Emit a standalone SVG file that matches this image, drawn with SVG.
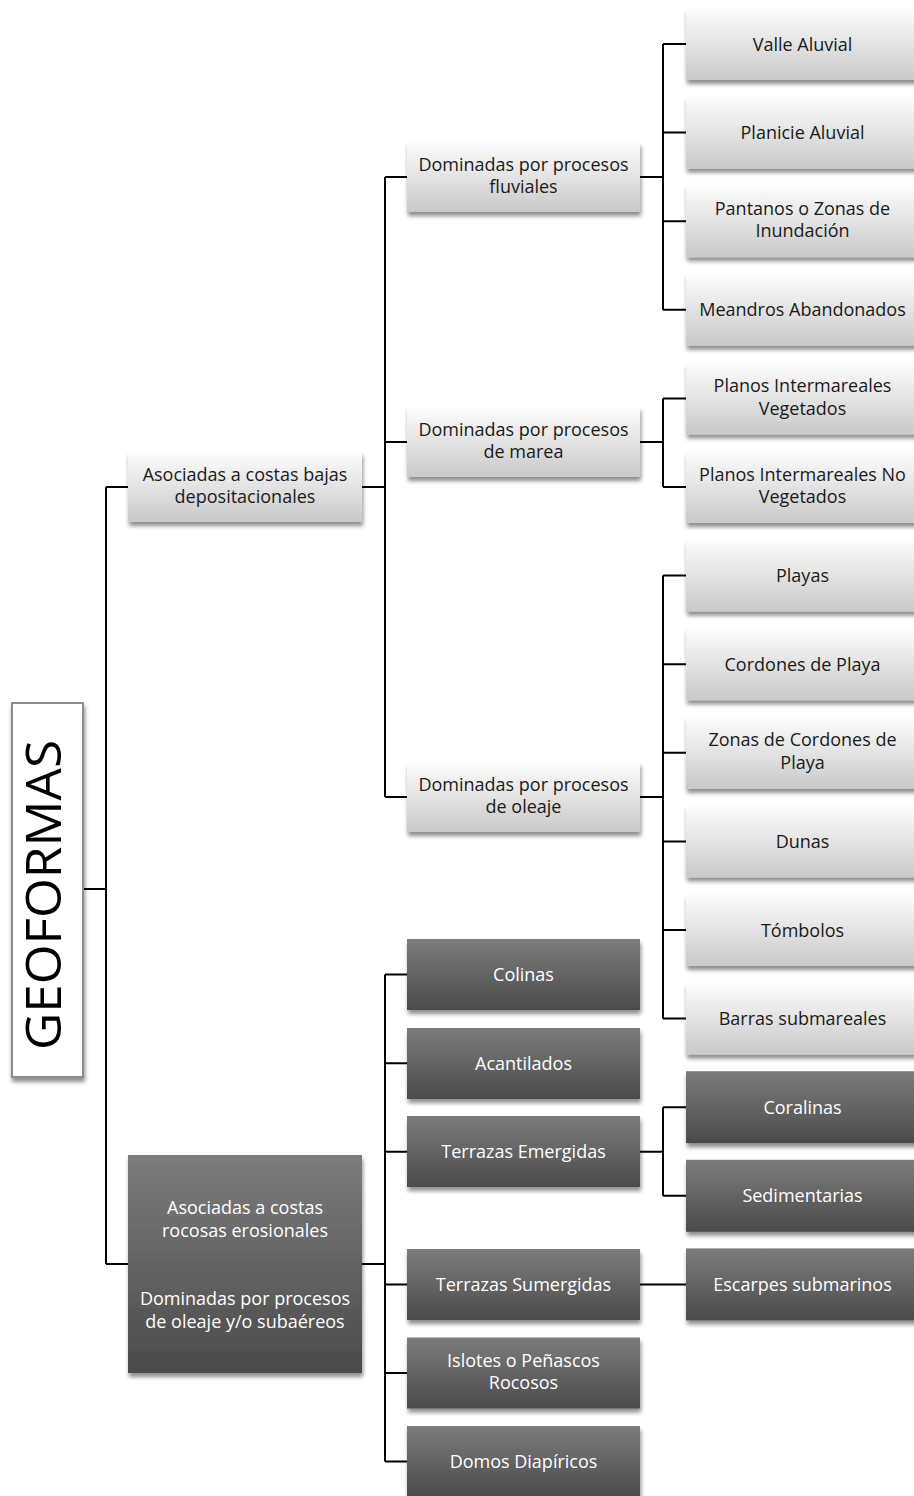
<svg xmlns="http://www.w3.org/2000/svg" width="914" height="1496" viewBox="0 0 914 1496">
<defs>
<linearGradient id="gl" x1="0" y1="0" x2="0" y2="1">
<stop offset="0" stop-color="#fdfdfd"/>
<stop offset="1" stop-color="#c9c9c9"/>
</linearGradient>
<linearGradient id="gd" x1="0" y1="0" x2="0" y2="1">
<stop offset="0" stop-color="#7c7c7c"/>
<stop offset="1" stop-color="#4b4b4b"/>
</linearGradient>
<filter id="sh" x="-10%" y="-20%" width="125%" height="150%">
<feGaussianBlur in="SourceAlpha" stdDeviation="2"/>
<feOffset dx="1" dy="4" result="b"/>
<feComponentTransfer><feFuncA type="linear" slope="0.45"/></feComponentTransfer>
<feMerge><feMergeNode/><feMergeNode in="SourceGraphic"/></feMerge>
</filter>
</defs>
<style>
.l{fill:url(#gl);filter:url(#sh)}
.d{fill:url(#gd);filter:url(#sh)}
text{font-family:"Open Sans","Liberation Sans",sans-serif;font-size:18px;text-anchor:middle}
.tl{fill:#1a1a1a}
.td{fill:#ffffff}
.c{stroke:#000;stroke-width:2;fill:none}
</style>
<g id="connectors" class="c">
<path d="M84 889H106M106 487V1264M106 487H128M106 1264H128"/>
<path d="M362 487H385M385 177V797M385 177H407M385 442H407M385 797H407"/>
<path d="M362 1264H385M385 974.6V1461.6M385 974.6H407M385 1063.2H407M385 1151.8H407M385 1284.4H407M385 1373H407M385 1461.6H407"/>
<path d="M640 177H663M663 44V309.8M663 44H686M663 132.6H686M663 221.2H686M663 309.8H686"/>
<path d="M640 442H663M663 398.4V487M663 398.4H686M663 487H686"/>
<path d="M640 797H663M663 575.6V1018.6M663 575.6H686M663 664.2H686M663 752.8H686M663 841.4H686M663 930H686M663 1018.6H686"/>
<path d="M640 1151.8H663M663 1107.2V1195.8M663 1107.2H686M663 1195.8H686"/>
<path d="M640 1284.4H686"/>
</g>
<g id="root">
<rect x="12" y="703" width="71" height="374" fill="#fff" stroke="#8c8c8c" stroke-width="2" filter="url(#sh)"/>
<text transform="translate(61 895) rotate(-90)" style="font-size:50px" textLength="310" lengthAdjust="spacingAndGlyphs" fill="#000">GEOFORMAS</text>
</g>
<g id="n-bajas"><rect class="l" x="128" y="452" width="234" height="70"/><text class="tl" x="245" y="480.5">Asociadas a costas bajas</text><text class="tl" x="245" y="503">depositacionales</text></g>
<g id="n-rocosas"><rect class="d" x="128" y="1155" width="234" height="218"/><text class="td" x="245" y="1214">Asociadas a costas</text><text class="td" x="245" y="1237">rocosas erosionales</text><text class="td" x="245" y="1305">Dominadas por procesos</text><text class="td" x="245" y="1328">de oleaje y/o subaéreos</text></g>
<g id="n-fluviales"><rect class="l" x="407" y="142" width="233" height="70"/><text class="tl" x="523.5" y="170.5">Dominadas por procesos</text><text class="tl" x="523.5" y="193">fluviales</text></g>
<g id="n-marea"><rect class="l" x="407" y="407" width="233" height="70"/><text class="tl" x="523.5" y="435.5">Dominadas por procesos</text><text class="tl" x="523.5" y="458">de marea</text></g>
<g id="n-oleaje"><rect class="l" x="407" y="762" width="233" height="70"/><text class="tl" x="523.5" y="790.5">Dominadas por procesos</text><text class="tl" x="523.5" y="813">de oleaje</text></g>
<g id="n-colinas"><rect class="d" x="407" y="939" width="233" height="71"/><text class="td" x="523.5" y="981">Colinas</text></g>
<g id="n-acantilados"><rect class="d" x="407" y="1028" width="233" height="71"/><text class="td" x="523.5" y="1069.5">Acantilados</text></g>
<g id="n-emergidas"><rect class="d" x="407" y="1116" width="233" height="71"/><text class="td" x="523.5" y="1158">Terrazas Emergidas</text></g>
<g id="n-sumergidas"><rect class="d" x="407" y="1249" width="233" height="71"/><text class="td" x="523.5" y="1291">Terrazas Sumergidas</text></g>
<g id="n-islotes"><rect class="d" x="407" y="1337.5" width="233" height="71"/><text class="td" x="523.5" y="1366.5">Islotes o Peñascos</text><text class="td" x="523.5" y="1389">Rocosos</text></g>
<g id="n-domos"><rect class="d" x="407" y="1426" width="233" height="71"/><text class="td" x="523.5" y="1468">Domos Diapíricos</text></g>
<g id="n-valle"><rect class="l" x="686" y="8" width="233" height="72"/><text class="tl" x="802.5" y="50.5">Valle Aluvial</text></g>
<g id="n-planicie"><rect class="l" x="686" y="96.6" width="233" height="72"/><text class="tl" x="802.5" y="139">Planicie Aluvial</text></g>
<g id="n-pantanos"><rect class="l" x="686" y="185.2" width="233" height="72"/><text class="tl" x="802.5" y="214.5">Pantanos o Zonas de</text><text class="tl" x="802.5" y="237">Inundación</text></g>
<g id="n-meandros"><rect class="l" x="686" y="273.8" width="233" height="72"/><text class="tl" x="802.5" y="316">Meandros Abandonados</text></g>
<g id="n-planos-veg"><rect class="l" x="686" y="362.4" width="233" height="72"/><text class="tl" x="802.5" y="392">Planos Intermareales</text><text class="tl" x="802.5" y="414.5">Vegetados</text></g>
<g id="n-planos-noveg"><rect class="l" x="686" y="451" width="233" height="72"/><text class="tl" x="802.5" y="480.5">Planos Intermareales No</text><text class="tl" x="802.5" y="503">Vegetados</text></g>
<g id="n-playas"><rect class="l" x="686" y="539.6" width="233" height="72"/><text class="tl" x="802.5" y="582">Playas</text></g>
<g id="n-cordones"><rect class="l" x="686" y="628.2" width="233" height="72"/><text class="tl" x="802.5" y="670.5">Cordones de Playa</text></g>
<g id="n-zonas"><rect class="l" x="686" y="716.8" width="233" height="72"/><text class="tl" x="802.5" y="746">Zonas de Cordones de</text><text class="tl" x="802.5" y="768.5">Playa</text></g>
<g id="n-dunas"><rect class="l" x="686" y="805.4" width="233" height="72"/><text class="tl" x="802.5" y="848">Dunas</text></g>
<g id="n-tombolos"><rect class="l" x="686" y="894" width="233" height="72"/><text class="tl" x="802.5" y="936.5">Tómbolos</text></g>
<g id="n-barras"><rect class="l" x="686" y="982.6" width="233" height="72"/><text class="tl" x="802.5" y="1025">Barras submareales</text></g>
<g id="n-coralinas"><rect class="d" x="686" y="1071.2" width="233" height="72"/><text class="td" x="802.5" y="1113.5">Coralinas</text></g>
<g id="n-sedimentarias"><rect class="d" x="686" y="1159.8" width="233" height="72"/><text class="td" x="802.5" y="1202">Sedimentarias</text></g>
<g id="n-escarpes"><rect class="d" x="686" y="1248.4" width="233" height="72"/><text class="td" x="802.5" y="1291">Escarpes submarinos</text></g>
</svg>
